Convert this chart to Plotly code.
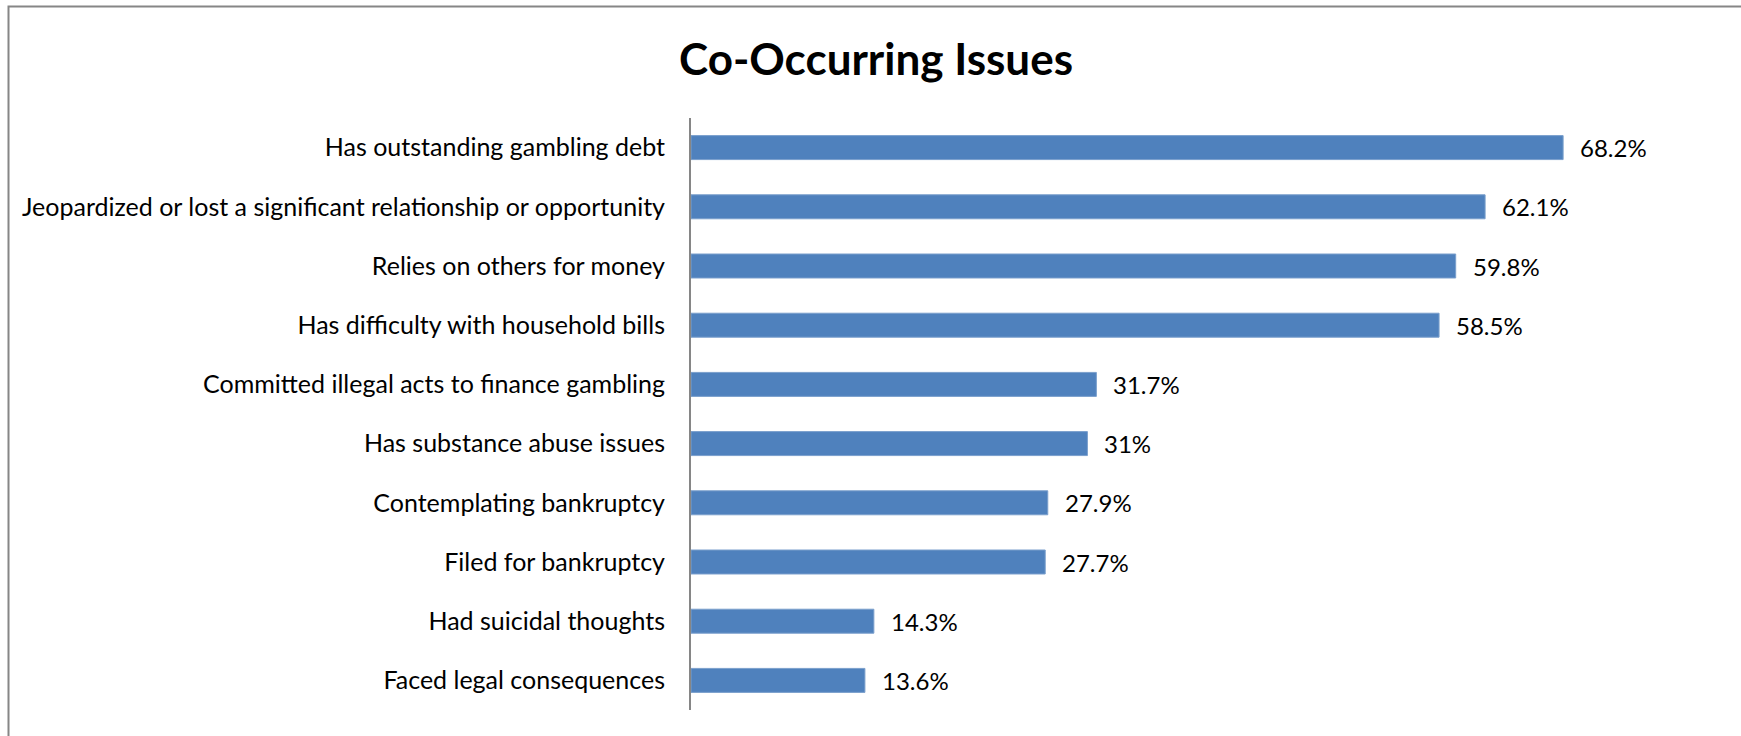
import plotly.graph_objects as go

# Share of cases reporting each co-occurring issue (%)
issues = [
    "Has outstanding gambling debt",
    "Jeopardized or lost a significant relationship or opportunity",
    "Relies on others for money",
    "Has difficulty with household bills",
    "Committed illegal acts to finance gambling",
    "Has substance abuse issues",
    "Contemplating bankruptcy",
    "Filed for bankruptcy",
    "Had suicidal thoughts",
    "Faced legal consequences",
]
percentages = [68.2, 62.1, 59.8, 58.5, 31.7, 31, 27.9, 27.7, 14.3, 13.6]
value_labels = [f"{v:g}%" for v in percentages]

W, H = 1741, 736
L, R, T, B = 691, 27, 118, 26
plot_w = W - L - R
plot_h = H - T - B

FONT = "Lato"
BAR_COLOR = "#4F81BD"
GRAY = "#868686"

fig = go.Figure(
    go.Bar(
        x=percentages,
        y=issues,
        orientation="h",
        marker=dict(color=BAR_COLOR, line=dict(color="#7A9FCC", width=1)),
        hoverinfo="skip",
    )
)

# value labels to the right of each bar
for name, v, lab in zip(issues, percentages, value_labels):
    fig.add_annotation(
        x=v, y=name, xref="x", yref="y",
        text=lab, showarrow=False,
        xanchor="left", yanchor="middle", xshift=15,
        font=dict(family=FONT, size=24, color="#000000"),
    )

# outer chart frame
def px_to_paper_x(px):
    return (px - L) / plot_w

def px_to_paper_y(py):
    return (H - B - py) / plot_h

fig.add_shape(
    type="rect", xref="paper", yref="paper",
    x0=px_to_paper_x(8.5), x1=px_to_paper_x(W + 10),
    y0=px_to_paper_y(H + 10), y1=px_to_paper_y(6.5),
    line=dict(color=GRAY, width=2), fillcolor="rgba(0,0,0,0)", layer="below",
)

fig.update_layout(
    width=W, height=H,
    margin=dict(l=L, r=R, t=T, b=B, pad=0),
    paper_bgcolor="white", plot_bgcolor="white",
    showlegend=False,
    bargap=0.595,
    title=dict(
        text="<b>Co-Occurring Issues</b>",
        x=876 / W, xanchor="center", xref="container",
        y=1 - 60 / H, yanchor="middle", yref="container",
        font=dict(family=FONT, size=44, color="#000000"),
    ),
    xaxis=dict(range=[0, 80], visible=False, fixedrange=True),
    yaxis=dict(
        autorange="reversed",
        showline=True, linecolor=GRAY, linewidth=2,
        showgrid=False, zeroline=False, ticks="",
        ticklabelstandoff=19,
        tickfont=dict(family=FONT, size=25, color="#000000"),
        fixedrange=True,
    ),
)

fig.write_html("out.html")
